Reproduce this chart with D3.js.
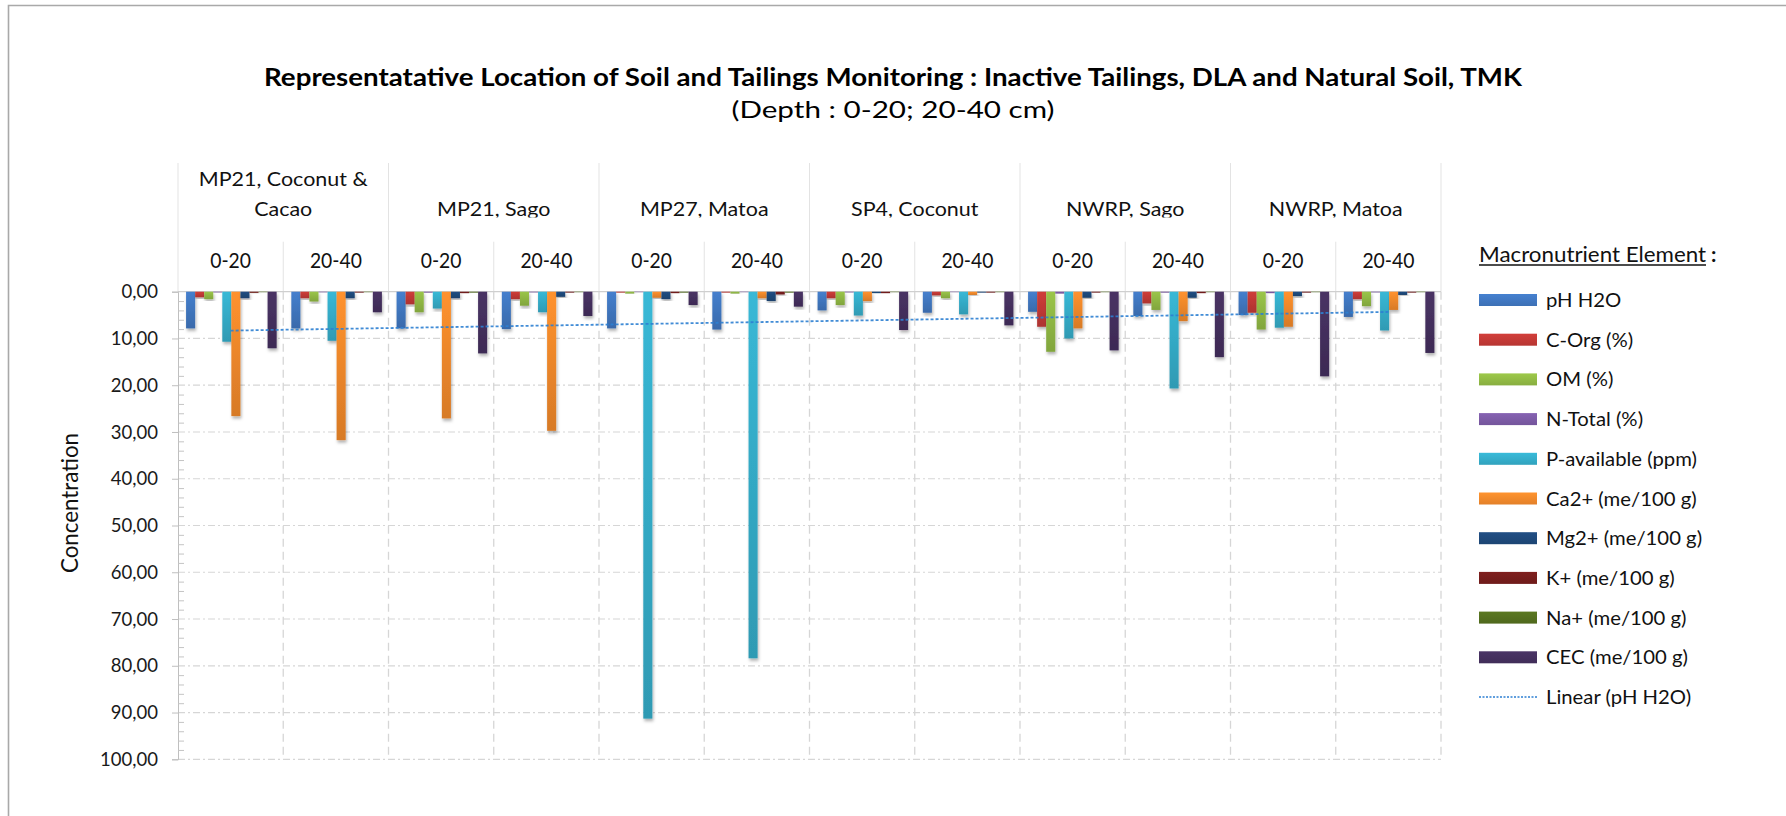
<!DOCTYPE html>
<html><head><meta charset="utf-8">
<script src="https://cdn.jsdelivr.net/npm/d3@7/dist/d3.min.js"></script>
<style>
html,body{margin:0;padding:0;background:#fff;}
text{font-family:Lato,"Open Sans",sans-serif;}
</style></head>
<body>
<svg id="chart" width="1786" height="816"></svg>
<script>
// ---------------- DATA ----------------
const groups = ["MP21, Coconut & Cacao", "MP21, Sago", "MP27, Matoa", "SP4, Coconut", "NWRP, Sago", "NWRP, Matoa"];
const groupLines = [["MP21, Coconut &", "Cacao"], ["MP21, Sago"], ["MP27, Matoa"], ["SP4, Coconut"], ["NWRP, Sago"], ["NWRP, Matoa"]];
const depths = ["0-20", "20-40"];
const seriesNames = ["pH H2O", "C-Org (%)", "OM  (%)", "N-Total (%)", "P-available (ppm)", "Ca2+ (me/100 g)", "Mg2+ (me/100 g)", "K+ (me/100 g)", "Na+ (me/100 g)", "CEC (me/100 g)"];
const seriesColors = ["#4178c2", "#c43a36", "#92bb45", "#7d5ba6", "#35aecb", "#f48a2c", "#1f4a7c", "#761d1c", "#55701f", "#45305f"];
// values per subcategory (group x depth), in order
const pH    = [7.85, 7.85, 7.85, 8.0, 7.85, 8.1, 4.0, 4.5, 4.3, 5.2, 5.0, 5.4];
const cOrg  = [1.2, 1.4, 2.7, 1.6, 0.2, 0.2, 1.4, 0.8, 7.5, 2.5, 4.5, 1.6];
const om    = [1.6, 2.1, 4.4, 3.0, 0.4, 0.4, 2.85, 1.4, 12.85, 3.9, 8.1, 3.1];
const nTot  = [0.15, 0.13, 0.2, 0.15, 0.1, 0.1, 0.15, 0.1, 0.4, 0.2, 0.3, 0.15];
const pAv   = [10.7, 10.5, 3.6, 4.4, 91.3, 78.4, 5.1, 4.85, 10.0, 20.7, 7.7, 8.3];
const ca    = [26.6, 31.75, 27.1, 29.75, 1.3, 1.4, 2.0, 0.7, 7.85, 6.3, 7.5, 3.9];
const mg    = [1.4, 1.4, 1.4, 1.1, 1.6, 2.0, 0.3, 0.2, 1.3, 1.3, 0.95, 0.7];
const kPlus = [0.25, 0.2, 0.3, 0.2, 0.3, 0.6, 0.3, 0.2, 0.2, 0.3, 0.2, 0.2];
const naPlus= [0.1, 0.1, 0.2, 0.1, 0.2, 0.2, 0.1, 0.1, 0.1, 0.1, 0.1, 0.1];
const cec   = [12.1, 4.4, 13.2, 5.2, 2.85, 3.2, 8.2, 7.2, 12.55, 14.0, 18.1, 13.1];
const seriesValues = [pH, cOrg, om, nTot, pAv, ca, mg, kPlus, naPlus, cec];
const yTicks = [0, 10, 20, 30, 40, 50, 60, 70, 80, 90, 100];
const titleText = "Representatative Location of Soil and Tailings Monitoring : Inactive Tailings, DLA and Natural Soil, TMK";
const subtitleText = "(Depth : 0-20; 20-40 cm)";
const yAxisTitle = "Concentration";
const legendTitle = "Macronutrient Element";
const trendLabel = "Linear (pH H2O)";

// ---------------- LAYOUT / STYLE ----------------
const svg = d3.select("#chart");
const L = 178, R = 1441, T = 291.7, B = 759.3, headerTop = 163, subHeaderTop = 241.7;

// text width fitting (the reference face is narrower/wider than Lato): per text class, a sample string and its width
function measure(str, size, weight) {
  const t = svg.append("text").attr("font-size", size).attr("font-weight", weight || "normal").text(str);
  const w = t.node().getComputedTextLength(); t.remove(); return w;
}
function fitClass(sample, size, target, weight) { return target / measure(sample, size, weight); }
function applyFit(sel, k) {
  sel.each(function () {
    const w = this.getComputedTextLength();
    d3.select(this).attr("textLength", w * k).attr("lengthAdjust", "spacingAndGlyphs");
  });
}
const FS = { title: 24, sub: 24, group: 20, depth: 20.5, tick: 19, axis: 23, legend: 19, legendTitle: 21 };
const K = {
  title: fitClass(titleText, FS.title, 1258, "bold"),
  sub: fitClass(subtitleText, FS.sub, 323),
  group: fitClass("MP21, Coconut &", FS.group, 169),
  depth: fitClass("20-40", FS.depth, 52),
  tick: fitClass("100,00", FS.tick, 58),
  axis: fitClass(yAxisTitle, FS.axis, 140),
  legend: fitClass("P-available (ppm)", FS.legend, 151),
  legendTitle: fitClass(legendTitle, FS.legendTitle, 227)
};

const subIds = d3.range(groups.length * depths.length);
const x = d3.scaleBand().domain(subIds).range([L, R]).padding(0);
const xs = d3.scaleBand().domain(seriesNames).range([0, x.bandwidth()]).paddingInner(0).paddingOuter(0.81).align(0.55);
const y = d3.scaleLinear().domain([0, 100]).range([T, B]);

const defs = svg.append("defs");
seriesColors.forEach((c, i) => {
  const g = defs.append("linearGradient").attr("id", "g" + i).attr("x1", 0).attr("y1", 0).attr("x2", 0).attr("y2", 1);
  g.append("stop").attr("offset", "0%").attr("stop-color", d3.color(c).brighter(0.15));
  g.append("stop").attr("offset", "100%").attr("stop-color", d3.color(c).darker(0.35));
  const h = defs.append("linearGradient").attr("id", "h" + i).attr("x1", 0).attr("y1", 0).attr("x2", 0).attr("y2", 1);
  h.append("stop").attr("offset", "0%").attr("stop-color", d3.color(c).brighter(0.2));
  h.append("stop").attr("offset", "100%").attr("stop-color", d3.color(c).darker(0.2));
});
const f = defs.append("filter").attr("id", "shadow").attr("x", "-50%").attr("y", "-10%").attr("width", "200%").attr("height", "130%");
f.append("feDropShadow").attr("dx", 1).attr("dy", 2.5).attr("stdDeviation", 1.8).attr("flood-color", "#000").attr("flood-opacity", 0.3);
defs.append("clipPath").attr("id", "grpClip").append("rect").attr("x", L).attr("y", headerTop).attr("width", R - L).attr("height", 217.5 - headerTop);

// outer frame
svg.append("path").attr("d", "M8.5,816 V5.5 H1786").attr("fill", "none").attr("stroke", "#a9a9a9").attr("stroke-width", 1.6);

// titles
applyFit(svg.append("text").attr("x", 893).attr("y", 86).attr("text-anchor", "middle")
  .attr("font-size", FS.title).attr("font-weight", "bold").attr("fill", "#000").text(titleText), K.title);
applyFit(svg.append("text").attr("x", 893).attr("y", 118).attr("text-anchor", "middle")
  .attr("font-size", FS.sub).attr("fill", "#000").text(subtitleText), K.sub);

// header separators
const hdr = svg.append("g").attr("stroke", "#e3e3e3").attr("stroke-width", 1);
subIds.concat([subIds.length]).forEach(i => {
  const xx = i < subIds.length ? x(i) : R;
  hdr.append("line").attr("x1", xx).attr("x2", xx)
    .attr("y1", i % 2 === 0 ? headerTop : subHeaderTop).attr("y2", T);
});

// group labels
const gl = svg.append("g").attr("clip-path", "url(#grpClip)");
groupLines.forEach((lines, gi) => {
  const cx = x(gi * 2) + x.bandwidth();
  lines.forEach((ln, li) => {
    const cy = lines.length === 1 ? 208.5 : 179 + li * 29.5;
    applyFit(gl.append("text").attr("x", cx).attr("y", cy + 7).attr("text-anchor", "middle")
      .attr("font-size", FS.group).attr("fill", "#111").text(ln), K.group);
  });
});
// depth labels
subIds.forEach(i => {
  applyFit(svg.append("text").attr("x", x(i) + x.bandwidth() / 2).attr("y", 267.5).attr("text-anchor", "middle")
    .attr("font-size", FS.depth).attr("fill", "#111").text(depths[i % 2]), K.depth);
});

// gridlines
const grid = svg.append("g");
yTicks.forEach(t => {
  grid.append("line").attr("x1", L).attr("x2", R).attr("y1", y(t)).attr("y2", y(t))
    .attr("stroke", t === 0 ? "#cfcfcf" : "#d6d6d6").attr("stroke-width", 1.2)
    .attr("stroke-dasharray", t === 0 ? null : "7,3,2,3");
});
subIds.forEach(i => {
  const xx = x(i) + x.bandwidth();
  grid.append("line").attr("x1", xx).attr("x2", xx).attr("y1", T).attr("y2", B)
    .attr("stroke", "#d6d6d6").attr("stroke-width", 1.3).attr("stroke-dasharray", "8,5");
});

// y axis
const yAxis = svg.append("g").attr("transform", `translate(${L},0)`)
  .call(d3.axisLeft(y).tickValues(yTicks).tickSize(6).tickPadding(14)
    .tickFormat(d => d3.format(".2f")(d).replace(".", ",")));
yAxis.select(".domain").attr("stroke", "#bfbfbf");
yAxis.selectAll(".tick line").attr("stroke", "#bfbfbf");
yAxis.selectAll(".tick text").attr("font-size", FS.tick).attr("fill", "#1a1a1a").attr("font-family", "Lato");
applyFit(yAxis.selectAll(".tick text"), K.tick);
const minor = d3.range(0, 101, 2).filter(v => v % 10 !== 0);
const yMinor = svg.append("g").attr("transform", `translate(${L},0)`)
  .call(d3.axisRight(y).tickValues(minor).tickSize(6).tickFormat(""));
yMinor.select(".domain").remove();
yMinor.selectAll(".tick line").attr("stroke", "#c4c4c4");

applyFit(svg.append("text").attr("transform", "translate(78,503) rotate(-90)").attr("text-anchor", "middle")
  .attr("font-size", FS.axis).attr("fill", "#111").text(yAxisTitle), K.axis);

// bars
const bars = svg.append("g");
seriesNames.forEach((s, si) => {
  bars.selectAll(null).data(seriesValues[si]).enter().append("rect")
    .attr("x", (d, i) => x(i) + xs(s))
    .attr("y", y(0))
    .attr("width", xs.bandwidth())
    .attr("height", d => y(d) - y(0))
    .attr("fill", `url(#g${si})`)
    .attr("filter", "url(#shadow)");
});

// linear trendline of pH (least squares over category index)
const xi = pH.map((_, i) => i + 1);
const mx = d3.mean(xi), my = d3.mean(pH);
const slope = d3.sum(xi.map((v, i) => (v - mx) * (pH[i] - my))) / d3.sum(xi.map(v => (v - mx) ** 2));
const icpt = my - slope * mx;
const trendPts = [1, pH.length].map(k => [x(k - 1) + x.bandwidth() / 2, y(icpt + slope * k)]);
svg.append("path").attr("d", d3.line()(trendPts)).attr("fill", "none")
  .attr("stroke", "#2c7fd2").attr("stroke-width", 1.8).attr("stroke-dasharray", "3,2").attr("opacity", 0.9);

// legend
const lg = svg.append("g");
const ltx = 1479;
const lt = lg.append("text").attr("x", ltx).attr("y", 262).attr("font-size", FS.legendTitle).attr("fill", "#111").text(legendTitle);
applyFit(lt, K.legendTitle);
const ltw = +lt.attr("textLength");
lg.append("line").attr("x1", ltx).attr("x2", ltx + ltw).attr("y1", 265).attr("y2", 265).attr("stroke", "#111").attr("stroke-width", 1.3);
lg.append("text").attr("x", ltx + ltw + 5).attr("y", 262).attr("font-size", FS.legendTitle).attr("font-weight", "bold").attr("fill", "#111").text(":");
seriesNames.forEach((s, i) => {
  const cy = 300 + i * 39.7;
  lg.append("rect").attr("x", 1479).attr("y", cy - 6).attr("width", 58).attr("height", 12).attr("fill", `url(#h${i})`);
  applyFit(lg.append("text").attr("x", 1546).attr("y", cy + 7).attr("font-size", FS.legend).attr("fill", "#111").text(s), K.legend);
});
const cyT = 300 + seriesNames.length * 39.7;
lg.append("line").attr("x1", 1479).attr("x2", 1538).attr("y1", cyT).attr("y2", cyT)
  .attr("stroke", "#2c7fd2").attr("stroke-width", 1.6).attr("stroke-dasharray", "2,1.5");
applyFit(lg.append("text").attr("x", 1546).attr("y", cyT + 7).attr("font-size", FS.legend).attr("fill", "#111").text(trendLabel), K.legend);
</script>
</body></html>
